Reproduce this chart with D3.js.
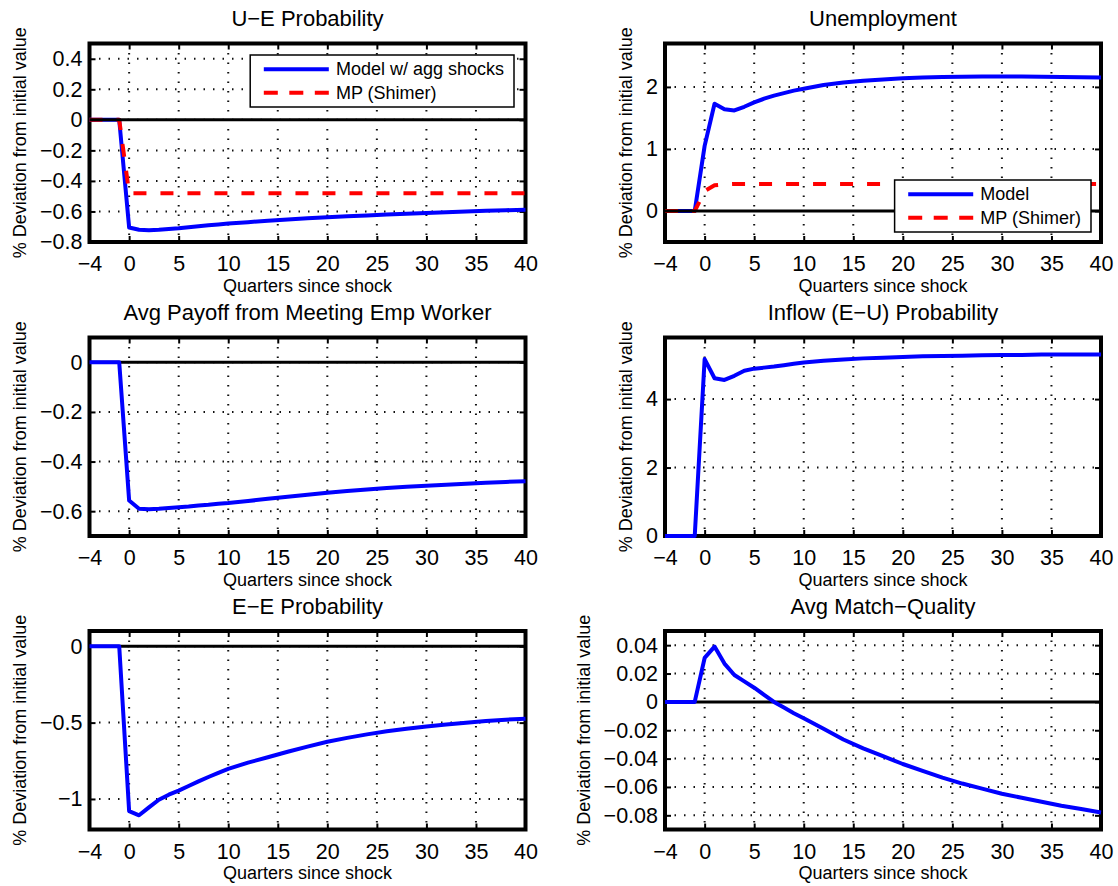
<!DOCTYPE html>
<html>
<head>
<meta charset="utf-8">
<script src="https://cdn.jsdelivr.net/npm/d3@7"></script>
<style>
  body { margin: 0; background: #fff; }
  svg { display: block; }
  text { font-family: "Liberation Sans", Arial, Helvetica, sans-serif; fill: #000; }
</style>
</head>
<body>
<svg id="fig" width="1118" height="886"></svg>
<script>
// quarters since shock, shared by every series
const quarters = [-4,-3,-2,-1,0,1,2,3,4,5,6,7,8,9,10,12,14,16,18,20,22,24,26,28,30,32,34,36,38,40]
const xTicks = [-4,0,5,10,15,20,25,30,35,40]

// U-E probability
const ueModel = [0,0,0,0,-0.705,-0.72,-0.723,-0.72,-0.715,-0.71,-0.703,-0.697,-0.691,-0.685,-0.679,-0.670,-0.661,-0.653,-0.645,-0.638,-0.632,-0.626,-0.620,-0.615,-0.610,-0.605,-0.600,-0.596,-0.592,-0.588]
const ueMP = [0,0,0,0,-0.48,-0.48,-0.48,-0.48,-0.48,-0.48,-0.48,-0.48,-0.48,-0.48,-0.48,-0.48,-0.48,-0.48,-0.48,-0.48,-0.48,-0.48,-0.48,-0.48,-0.48,-0.48,-0.48,-0.48,-0.48,-0.48]
const ueTicks = [-0.8,-0.6,-0.4,-0.2,0,0.2,0.4]

// unemployment
const unModel = [0,0,0,0,1.05,1.73,1.64,1.62,1.68,1.75,1.81,1.86,1.90,1.94,1.97,2.03,2.07,2.10,2.12,2.14,2.15,2.16,2.165,2.17,2.17,2.17,2.165,2.16,2.155,2.15]
const unMP = [0,0,0,0,0.32,0.415,0.43,0.435,0.435,0.435,0.435,0.435,0.435,0.435,0.435,0.435,0.435,0.435,0.435,0.435,0.435,0.435,0.435,0.435,0.435,0.435,0.435,0.435,0.435,0.435]
const unTicks = [0,1,2]

// avg payoff from meeting employed worker
const payoff = [0,0,0,0,-0.557,-0.590,-0.592,-0.590,-0.587,-0.584,-0.581,-0.577,-0.574,-0.570,-0.567,-0.559,-0.550,-0.542,-0.534,-0.526,-0.519,-0.513,-0.507,-0.502,-0.497,-0.493,-0.489,-0.485,-0.482,-0.479]
const payoffTicks = [-0.6,-0.4,-0.2,0]

// inflow (E-U) probability
const inflow = [0,0,0,0,5.17,4.61,4.56,4.68,4.83,4.89,4.92,4.95,4.99,5.03,5.07,5.12,5.16,5.19,5.21,5.23,5.25,5.26,5.27,5.28,5.29,5.29,5.30,5.30,5.30,5.30]
const inflowTicks = [0,2,4]

// E-E probability
const eeProb = [0,0,0,0,-1.08,-1.107,-1.055,-1.005,-0.972,-0.945,-0.915,-0.885,-0.856,-0.829,-0.803,-0.762,-0.727,-0.691,-0.657,-0.625,-0.600,-0.577,-0.557,-0.540,-0.526,-0.513,-0.501,-0.490,-0.481,-0.474]
const eeTicks = [-1,-0.5,0]

// avg match quality
const matchQ = [0,0,0,0,0.031,0.039,0.027,0.019,0.0145,0.010,0.005,0.0,-0.004,-0.008,-0.0115,-0.019,-0.0265,-0.0328,-0.0383,-0.0438,-0.0486,-0.0534,-0.0576,-0.0612,-0.0648,-0.0676,-0.0704,-0.0732,-0.0756,-0.078]
const matchTicks = [-0.08,-0.06,-0.04,-0.02,0,0.02,0.04]

const panels = [
  { title: "U\u2212E Probability", col: 0, row: 0, ylim: [-0.8, 0.5], yticks: ueTicks,
    series: [{ y: ueModel, kind: "model" }, { y: ueMP, kind: "mp" }],
    legend: { labels: ["Model w/ agg shocks", "MP (Shimer)"], corner: "ne" }, zeroTop: true },
  { title: "Unemployment", col: 1, row: 0, ylim: [-0.5, 2.7], yticks: unTicks,
    series: [{ y: unModel, kind: "model" }, { y: unMP, kind: "mp" }],
    legend: { labels: ["Model", "MP (Shimer)"], corner: "se" }, zeroTop: true },
  { title: "Avg Payoff from Meeting Emp Worker", col: 0, row: 1, ylim: [-0.7, 0.1], yticks: payoffTicks,
    series: [{ y: payoff, kind: "model" }] },
  { title: "Inflow (E\u2212U) Probability", col: 1, row: 1, ylim: [0, 5.8], yticks: inflowTicks,
    series: [{ y: inflow, kind: "model" }] },
  { title: "E\u2212E Probability", col: 0, row: 2, ylim: [-1.2, 0.1], yticks: eeTicks,
    series: [{ y: eeProb, kind: "model" }] },
  { title: "Avg Match\u2212Quality", col: 1, row: 2, ylim: [-0.09, 0.05], yticks: matchTicks,
    series: [{ y: matchQ, kind: "model" }] }
]

const colX = [89.5, 665]
const rowY = [43.5, 337.5, 631]
const W = 436, H = 198.5
const fmt = d3.format("~g")
const svg = d3.select("#fig")

panels.forEach(p => {
  const g = svg.append("g").attr("transform", `translate(${colX[p.col]},${rowY[p.row]})`)
  const x = d3.scaleLinear().domain([-4, 40]).range([0, W])
  const y = d3.scaleLinear().domain(p.ylim).range([H, 0])

  // dotted grid
  g.append("g").selectAll("line")
    .data(xTicks.filter(t => t > -4 && t < 40)).join("line")
    .attr("x1", d => x(d)).attr("x2", d => x(d)).attr("y1", 0).attr("y2", H)
    .attr("stroke", "#111").attr("stroke-width", 2).attr("stroke-dasharray", "1.5,8")
  g.append("g").selectAll("line")
    .data(p.yticks.filter(t => y(t) > 1 && y(t) < H - 1)).join("line")
    .attr("x1", 0).attr("x2", W).attr("y1", d => y(d)).attr("y2", d => y(d))
    .attr("stroke", "#111").attr("stroke-width", 2).attr("stroke-dasharray", "1.5,8")

  // ticks on all four sides, pointing in
  g.append("g").attr("transform", `translate(0,${H})`)
    .call(d3.axisBottom(x).tickValues(xTicks).tickSize(-6).tickPadding(14).tickFormat(fmt))
  g.append("g").call(d3.axisTop(x).tickValues(xTicks).tickSize(-6).tickFormat(""))
  const left = g.append("g")
    .call(d3.axisLeft(y).tickValues(p.yticks).tickSize(-6).tickPadding(7).tickFormat(fmt))
  g.append("g").attr("transform", `translate(${W},0)`)
    .call(d3.axisRight(y).tickValues(p.yticks).tickSize(-6).tickFormat(""))
  g.selectAll(".domain").remove()
  g.selectAll(".tick line").attr("stroke", "#000").attr("stroke-width", 2)
  g.selectAll(".tick text").attr("font-size", 21.5)
    .attr("font-family", '"Liberation Sans", Arial, Helvetica, sans-serif')

  // frame
  g.append("rect").attr("width", W).attr("height", H)
    .attr("fill", "none").attr("stroke", "#000").attr("stroke-width", 4)

  const zero = () => g.append("line")
    .attr("x1", x(-4)).attr("x2", x(40)).attr("y1", y(0)).attr("y2", y(0))
    .attr("stroke", "#000").attr("stroke-width", 3)
  if (!p.zeroTop) zero()

  const line = vals => d3.line().x((d, i) => x(quarters[i])).y(d => y(d))(vals)
  p.series.forEach(s => {
    g.append("path").attr("d", line(s.y)).attr("fill", "none")
      .attr("stroke", s.kind === "model" ? "#0000ff" : "#ff0000")
      .attr("stroke-width", 4)
      .attr("stroke-linejoin", "round")
      .attr("stroke-dasharray", s.kind === "mp" ? "13,14" : null)
  })
  if (p.zeroTop) zero()

  // labels
  g.append("text").attr("x", W / 2).attr("y", -25)
    .attr("text-anchor", "middle").attr("dominant-baseline", "central")
    .attr("font-size", 22).text(p.title)
  g.append("text").attr("x", W / 2).attr("y", H + 43.5)
    .attr("text-anchor", "middle").attr("dominant-baseline", "central")
    .attr("font-size", 18).text("Quarters since shock")
  const lb = left.node().getBBox()
  g.append("text")
    .attr("transform", `translate(${lb.x - 20},${H / 2}) rotate(-90)`)
    .attr("text-anchor", "middle").attr("dominant-baseline", "central")
    .attr("font-size", 18).text("% Deviation from initial value")

  // legend
  if (p.legend) {
    const lg = g.append("g")
    const box = lg.append("rect").attr("fill", "#fff").attr("stroke", "#000").attr("stroke-width", 1.5)
    const texts = p.legend.labels.map((lab, i) => {
      const yy = 14.3 + i * 23.4
      lg.append("line").attr("x1", 13.6).attr("x2", 78.6).attr("y1", yy).attr("y2", yy)
        .attr("stroke", i === 0 ? "#0000ff" : "#ff0000").attr("stroke-width", 4)
        .attr("stroke-dasharray", i === 0 ? null : "14,11.5")
      return lg.append("text").attr("x", 85.7).attr("y", yy)
        .attr("dominant-baseline", "central").attr("font-size", 18).text(lab)
    })
    const tw = d3.max(texts, t => t.node().getComputedTextLength())
    const bw = 85.7 + tw + 10, bh = 52
    box.attr("width", bw).attr("height", bh)
    const inset = p.legend.corner === "ne" ? 11.5 : 10
    const lx = W - inset - bw
    const ly = p.legend.corner === "ne" ? 11.5 : H - inset - bh
    lg.attr("transform", `translate(${lx},${ly})`)
  }
})
</script>
</body>
</html>
